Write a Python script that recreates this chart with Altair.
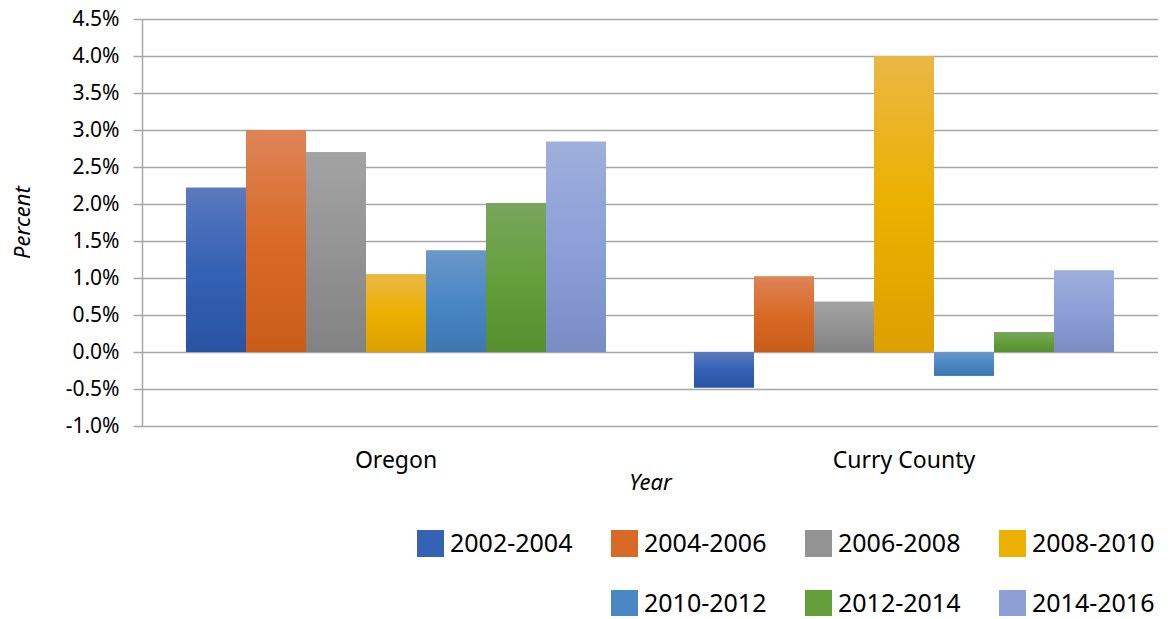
import altair as alt
import pandas as pd

regions = ["Oregon", "Curry County"]
periods = ["2002-2004", "2004-2006", "2006-2008", "2008-2010",
           "2010-2012", "2012-2014", "2014-2016"]
oregon_values = [0.0222, 0.0300, 0.0270, 0.0105, 0.0137, 0.0201, 0.0284]
curry_values = [-0.0048, 0.0102, 0.0068, 0.0400, -0.0032, 0.0027, 0.0110]
y_ticks = [-0.01, -0.005, 0.0, 0.005, 0.01, 0.015, 0.02, 0.025,
           0.03, 0.035, 0.04, 0.045]

light = ["#5B79BE", "#DD8457", "#A3A3A3", "#EAB744", "#6A97C8", "#78A55E", "#9EAFDB"]
mid = ["#3462B4", "#D96A26", "#939393", "#ECB000", "#4A88C4", "#649F3C", "#8C9FD7"]
dark = ["#2B53A3", "#C95D18", "#828282", "#DCA000", "#3C77B0", "#568F2E", "#7A8CC4"]

rows = []
for r, vals in zip(regions, [oregon_values, curry_values]):
    for p, v in zip(periods, vals):
        rows.append({"region": r, "period": p, "value": v})
df = pd.DataFrame(rows)

# legend: blank slot so the 2nd row is right-aligned like the original
legend_domain = periods[:4] + [" "] + periods[4:]
legend_range = mid[:4] + ["transparent"] + mid[4:]

FONT = "Noto Sans"
GRID = "#A6A6A6"

base = alt.Chart(df).encode(
    x=alt.X(
        "region:N", sort=regions, title="Year",
        scale=alt.Scale(paddingInner=0, paddingOuter=0),
        axis=alt.Axis(
            labelAngle=0, labelFontSize=23, labelColor="#000000", labelPadding=23,
            domain=False, ticks=False, grid=False,
            titleFontStyle="italic", titleFontWeight="normal", titleFontSize=22,
            titleColor="#000000", titleBaseline="middle", titleY=56,
        ),
    ),
    xOffset=alt.XOffset(
        "period:N",
        scale=alt.Scale(domain=periods, paddingInner=0, paddingOuter=0.733),
    ),
    y=alt.Y(
        "value:Q", title="Percent",
        scale=alt.Scale(domain=[-0.01, 0.045], nice=False, zero=False),
        axis=alt.Axis(
            values=y_ticks,
            labelExpr="(datum.value < 0 ? '-' : '') + format(abs(datum.value), '.1%')",
            labelFontSize=21, labelColor="#000000",
            labelPadding=14, tickSize=9, tickColor=GRID, tickWidth=1.5,
            domainColor=GRID, domainWidth=1.5, gridColor=GRID, gridWidth=1.5,
            titleFontStyle="italic", titleFontWeight="normal", titleFontSize=22,
            titleColor="#000000", titleX=-120, titleY=203, titleAlign="center",
            titleBaseline="middle", titleAngle=270,
        ),
    ),
)

flat = base.mark_bar().encode(
    color=alt.Color(
        "period:N",
        scale=alt.Scale(domain=legend_domain, range=legend_range),
        legend=alt.Legend(
            title=None, orient="none", legendX=275, legendY=511, columns=4,
            direction="horizontal",
            symbolType="square", symbolSize=729, symbolStrokeWidth=0,
            labelFontSize=25, labelColor="#000000", labelOffset=6, labelLimit=400,
            columnPadding=38, rowPadding=33, padding=0,
        ),
    )
)

layers = [flat]
for i, p in enumerate(periods):
    grad = alt.LinearGradient(
        gradient="linear",
        stops=[
            alt.GradientStop(offset=0, color=light[i]),
            alt.GradientStop(offset=0.5, color=mid[i]),
            alt.GradientStop(offset=1, color=dark[i]),
        ],
        x1=0, x2=0, y1=0, y2=1,
    )
    layers.append(base.transform_filter(alt.datum.period == p).mark_bar(color=grad))

chart = alt.layer(*layers).properties(
    width=1016, height=407,
    autosize=alt.AutoSizeParams(type="none"),
    padding={"left": 134, "top": 11, "right": 0, "bottom": 190},
).configure(font=FONT).configure_view(stroke=None)

chart.save("out.html", embed_options={"renderer": "svg", "actions": False})
